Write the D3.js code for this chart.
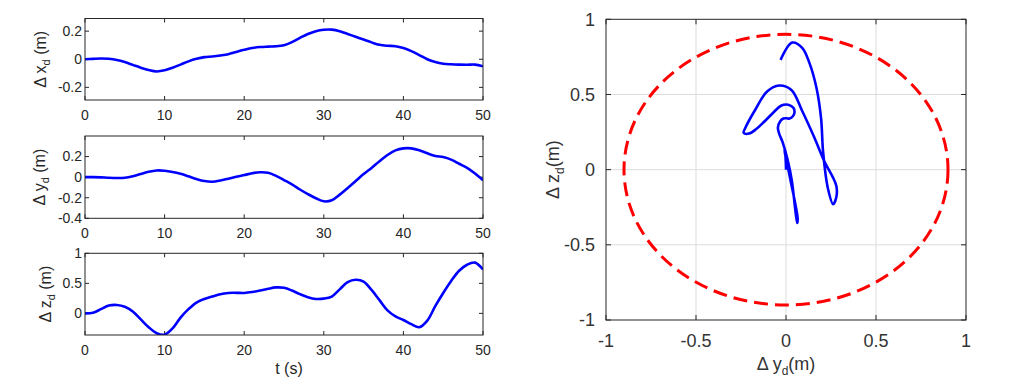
<!DOCTYPE html>
<html><head><meta charset="utf-8">
<script src="https://cdn.jsdelivr.net/npm/d3@7"></script>
<style>
html,body{margin:0;padding:0;background:#fff;}
svg{display:block;font-family:"Liberation Sans",Arial,sans-serif;}
</style></head>
<body><svg id="c" width="1030" height="390"></svg>
<script>
// ---- data ----
const t = d3.range(0, 51); // seconds 0..50
const dx = [0.000,0.003,0.005,0.003,-0.005,-0.020,-0.040,-0.060,-0.077,-0.087,
  -0.079,-0.060,-0.038,-0.015,0.003,0.015,0.020,0.027,0.036,0.052,
  0.067,0.080,0.087,0.090,0.092,0.100,0.122,0.152,0.180,0.200,
  0.210,0.211,0.200,0.180,0.160,0.140,0.120,0.103,0.096,0.093,
  0.080,0.058,0.030,0.000,-0.020,-0.032,-0.036,-0.038,-0.039,-0.038,-0.050];
const dy = [0.000,0.000,-0.002,-0.006,-0.008,-0.006,0.008,0.030,0.052,0.065,
  0.062,0.050,0.032,0.008,-0.018,-0.038,-0.045,-0.033,-0.015,0.003,
  0.020,0.038,0.047,0.042,0.012,-0.028,-0.070,-0.120,-0.165,-0.205,
  -0.235,-0.225,-0.170,-0.105,-0.038,0.030,0.090,0.155,0.215,0.260,
  0.280,0.280,0.262,0.232,0.206,0.195,0.170,0.130,0.090,0.035,-0.030];
const dz = [0.000,0.010,0.070,0.130,0.140,0.110,0.030,-0.100,-0.230,-0.330,
  -0.355,-0.250,-0.070,0.070,0.180,0.240,0.280,0.320,0.340,0.342,
  0.340,0.355,0.380,0.410,0.432,0.425,0.380,0.320,0.270,0.240,
  0.245,0.280,0.400,0.520,0.560,0.530,0.390,0.220,0.050,-0.050,
  -0.110,-0.180,-0.230,-0.120,0.120,0.340,0.540,0.710,0.810,0.845,0.730];
const timeTicks = [0,10,20,30,40,50];
const xTicks = [-0.2,0,0.2];
const yTicks = [-0.4,-0.2,0,0.2];
const zTicks = [0,0.5,1];
const planeTicks = [-1,-0.5,0,0.5,1];
const safeRadius = 0.9;

const svg = d3.select("#c");
const ink = "#262626";
const blue = "#0000ff";

const xT = d3.scaleLinear().domain([0,50]).range([85,483]);

function fmt(v){ return String(v); }

function panel(o){
  const y = d3.scaleLinear().domain(o.domain).range([o.bottom,o.top]);
  const g = svg.append("g");
  const clipId = "clip"+o.id;
  svg.append("clipPath").attr("id",clipId).append("rect")
    .attr("x",xT.range()[0]).attr("y",o.top).attr("width",xT.range()[1]-xT.range()[0]).attr("height",o.bottom-o.top);
  const tl = 4;
  timeTicks.forEach(v=>{
    g.append("line").attr("x1",xT(v)).attr("x2",xT(v)).attr("y1",o.bottom).attr("y2",o.bottom-tl).attr("stroke",ink);
    g.append("line").attr("x1",xT(v)).attr("x2",xT(v)).attr("y1",o.top).attr("y2",o.top+tl).attr("stroke",ink);
    g.append("text").attr("x",xT(v)).attr("y",o.bottom+o.xlab).attr("text-anchor","middle")
      .attr("font-size",14).attr("fill",ink).text(fmt(v));
  });
  o.ticks.forEach(v=>{
    g.append("line").attr("x1",xT(0)).attr("x2",xT(0)+tl).attr("y1",y(v)).attr("y2",y(v)).attr("stroke",ink);
    g.append("line").attr("x1",xT(50)).attr("x2",xT(50)-tl).attr("y1",y(v)).attr("y2",y(v)).attr("stroke",ink);
    g.append("text").attr("x",xT(0)-3).attr("y",y(v)).attr("dy","0.35em").attr("text-anchor","end")
      .attr("font-size",14).attr("fill",ink).text(fmt(v));
  });
  const line = d3.line().x((d,i)=>xT(t[i])).y(d=>y(d)).curve(d3.curveCatmullRom.alpha(0.5));
  g.append("path").datum(o.data).attr("d",line).attr("fill","none").attr("stroke",blue)
    .attr("stroke-width",2.6).attr("clip-path","url(#"+clipId+")");
  g.append("rect").attr("x",xT(0)).attr("y",o.top).attr("width",xT(50)-xT(0)).attr("height",o.bottom-o.top)
    .attr("fill","none").attr("stroke",ink).attr("stroke-width",1);
  const lab = g.append("text").attr("transform",`translate(${o.labx},${(o.top+o.bottom)/2}) rotate(-90)`)
    .attr("text-anchor","middle").attr("font-size",16).attr("fill",ink);
  lab.append("tspan").text("\u0394 "+o.sym);
  lab.append("tspan").attr("font-size",11).attr("dy",4).text("d");
  lab.append("tspan").attr("dy",-4).text(" (m)");
}

panel({id:1, top:18.5, bottom:100, domain:[-0.29,0.29], ticks:xTicks, data:dx, sym:"x", labx:46, xlab:20});
panel({id:2, top:136, bottom:218.3, domain:[-0.4,0.4], ticks:yTicks, data:dy, sym:"y", labx:45, xlab:20});
panel({id:3, top:253.3, bottom:335, domain:[-0.36,1], ticks:zTicks, data:dz, sym:"z", labx:51, xlab:19.5});

svg.append("text").attr("x",289).attr("y",374).attr("text-anchor","middle")
  .attr("font-size",16).attr("fill",ink).text("t (s)");

// ---- right panel ----
const px = d3.scaleLinear().domain([-1,1]).range([606,966]);
const py = d3.scaleLinear().domain([-1,1]).range([320,19.3]);
const rg = svg.append("g");
planeTicks.forEach(v=>{
  if(v>-1 && v<1){
    rg.append("line").attr("x1",px(v)).attr("x2",px(v)).attr("y1",py(-1)).attr("y2",py(1)).attr("stroke","#dcdcdc");
    rg.append("line").attr("x1",px(-1)).attr("x2",px(1)).attr("y1",py(v)).attr("y2",py(v)).attr("stroke","#dcdcdc");
  }
});
const tl2 = 5;
planeTicks.forEach(v=>{
  rg.append("line").attr("x1",px(v)).attr("x2",px(v)).attr("y1",py(-1)).attr("y2",py(-1)-tl2).attr("stroke",ink);
  rg.append("line").attr("x1",px(v)).attr("x2",px(v)).attr("y1",py(1)).attr("y2",py(1)+tl2).attr("stroke",ink);
  rg.append("line").attr("x1",px(-1)).attr("x2",px(-1)+tl2).attr("y1",py(v)).attr("y2",py(v)).attr("stroke",ink);
  rg.append("line").attr("x1",px(1)).attr("x2",px(1)-tl2).attr("y1",py(v)).attr("y2",py(v)).attr("stroke",ink);
  rg.append("text").attr("x",px(v)).attr("y",py(-1)+27).attr("text-anchor","middle")
    .attr("font-size",18).attr("fill","#333").text(fmt(v));
  rg.append("text").attr("x",px(-1)-11).attr("y",py(v)).attr("dy","0.35em").attr("text-anchor","end")
    .attr("font-size",18).attr("fill","#333").text(fmt(v));
});
rg.append("ellipse").attr("cx",px(0)).attr("cy",py(0))
  .attr("rx",px(safeRadius)-px(0)).attr("ry",py(0)-py(safeRadius))
  .attr("fill","none").attr("stroke","#ff0000").attr("stroke-width",3).attr("stroke-dasharray","14 7");
const path2 = d3.line().x((d,i)=>px(dy[i])).y((d,i)=>py(dz[i])).curve(d3.curveCatmullRom.alpha(0.5));
rg.append("path").datum(t).attr("d",path2).attr("fill","none").attr("stroke",blue).attr("stroke-width",2.6);
rg.append("rect").attr("x",px(-1)).attr("y",py(1)).attr("width",px(1)-px(-1)).attr("height",py(-1)-py(1))
  .attr("fill","none").attr("stroke",ink).attr("stroke-width",1);
const xl = rg.append("text").attr("x",786).attr("y",369.5).attr("text-anchor","middle").attr("font-size",18).attr("fill","#333");
xl.append("tspan").text("\u0394 y");
xl.append("tspan").attr("font-size",12).attr("dy",5).text("d");
xl.append("tspan").attr("dy",-5).text("(m)");
const yl = rg.append("text").attr("transform",`translate(559,${(py(1)+py(-1))/2}) rotate(-90)`)
  .attr("text-anchor","middle").attr("font-size",18).attr("fill","#333");
yl.append("tspan").text("\u0394 z");
yl.append("tspan").attr("font-size",12).attr("dy",5).text("d");
yl.append("tspan").attr("dy",-5).text("(m)");
</script></body></html>
